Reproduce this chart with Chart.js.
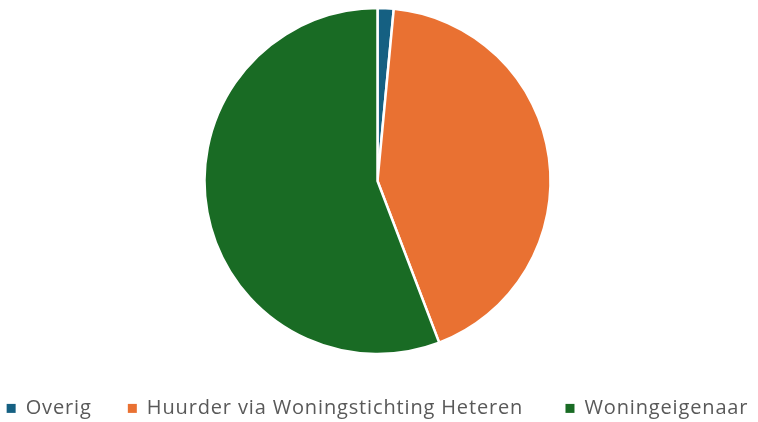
<!DOCTYPE html>
<html>
<head>
<meta charset="utf-8">
<script src="https://cdn.jsdelivr.net/npm/chart.js@4.4.1/dist/chart.umd.min.js"></script>
<style>
  html, body { margin: 0; padding: 0; background: #fff; }
  #wrap { width: 758px; height: 422px; }
</style>
</head>
<body>
<div id="wrap"><canvas id="pieChart" width="758" height="422"></canvas></div>
<script>
// data (percent)
var labels = ['Overig', 'Huurder via Woningstichting Heteren', 'Woningeigenaar'];
var values = [1.5, 42.7, 55.8];
var colors = ['#156082', '#E97132', '#196B24'];

// gap after each legend entry (the last one has none)
var legendGaps = ['     ', '      ', ''];

// the original font is wider than Open Sans, so space the letters a little
var spacing = {
    id: 'spacing',
    beforeLayout: function (chart) { chart.ctx.letterSpacing = '0.85px'; },
    beforeDraw: function (chart) { chart.ctx.letterSpacing = '0.85px'; }
};

var ctx = document.getElementById('pieChart').getContext('2d');

new Chart(ctx, {
    type: 'pie',
    data: {
        labels: labels,
        datasets: [{
            data: values,
            backgroundColor: colors,
            borderColor: '#ffffff',
            borderWidth: 2.5,
            radius: 173
        }]
    },
    options: {
        responsive: false,
        animation: false,
        layout: {
            padding: { top: 8, right: 3, bottom: 0, left: 0 }
        },
        plugins: {
            tooltip: { enabled: false },
            legend: {
                position: 'bottom',
                maxHeight: 68,
                title: { display: true, text: '', padding: 0, font: { size: 32 } },
                labels: {
                    boxWidth: 9,
                    boxHeight: 9,
                    padding: 6,
                    color: '#595959',
                    font: { family: 'Open Sans', size: 20 },
                    generateLabels: function (chart) {
                        var items = Chart.controllers.pie.overrides.plugins.legend.labels.generateLabels(chart);
                        items.forEach(function (it, i) {
                            it.text = it.text + legendGaps[i];
                            it.lineWidth = 0;
                            it.strokeStyle = it.fillStyle;
                        });
                        return items;
                    }
                }
            }
        }
    },
    plugins: [spacing]
});
</script>
</body>
</html>
